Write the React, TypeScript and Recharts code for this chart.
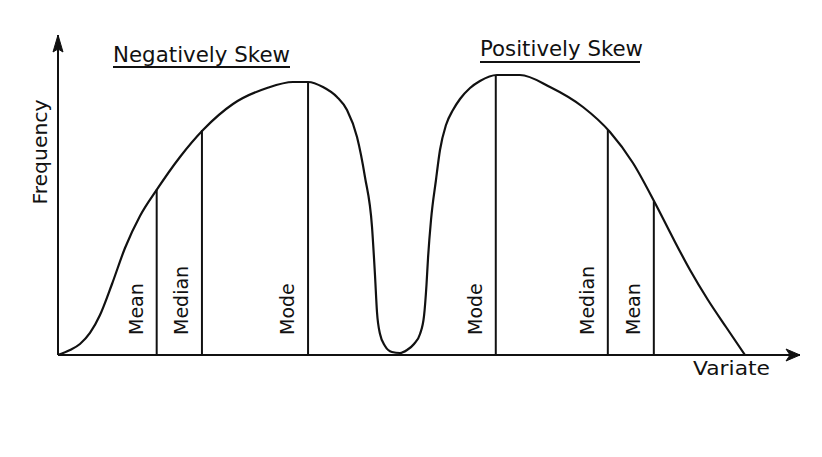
import React from 'react';
import { ComposedChart, Line, XAxis, YAxis, ReferenceLine, ReferenceDot } from 'recharts';

// Frequency curve (two humps), in chart units
const curveX = [0, 1.62, 2.96, 4.31, 5.66, 7.28, 9.03, 11.05, 13.34, 16.44, 19.54, 23.58, 28.17, 31.67, 33.69, 35.71, 37.60, 38.95, 40.30, 41.37, 42.32, 42.72, 42.99, 43.40, 44.07, 45.01, 46.09, 47.04, 47.98, 48.79, 49.33, 49.66, 49.87, 50.27, 50.94, 51.48, 52.29, 53.23, 54.18, 55.53, 56.87, 59.16, 62.26, 66.31, 70.75, 74.39, 77.49, 80.46, 82.88, 85.18, 87.60, 90.03, 92.59];
const curveY = [0, 1.56, 3.44, 6.88, 12.5, 22.19, 33.44, 43.44, 51.75, 61.88, 70.31, 78.44, 83.44, 85.31, 85.31, 83.75, 80.63, 76.56, 68.13, 55.63, 40.0, 25.0, 13.44, 6.56, 2.81, 0.94, 0.63, 1.56, 3.44, 6.56, 12.19, 21.88, 30.31, 42.19, 54.69, 64.06, 71.88, 76.56, 80.0, 83.44, 85.63, 87.5, 87.5, 83.75, 77.5, 69.69, 60.0, 47.5, 36.56, 26.56, 17.19, 8.75, 0];

// Vertical marker lines
const markerNames = ['Mean', 'Median', 'Mode', 'Mode', 'Median', 'Mean'];
const markerX = [13.3, 19.4, 33.7, 59.0, 74.1, 80.3];
const markerTop = [51.7, 70.3, 85.3, 87.5, 70.3, 48.0];

const titles = ['Negatively Skew', 'Positively Skew'];
const yLabel = 'Frequency';
const xLabel = 'Variate';
const xDomain = [0, 100];
const yDomain = [0, 100];

const data = curveX.map((x, i) => ({ x, y: curveY[i] }));

const FONT = '"DejaVu Sans", Verdana, sans-serif';
const INK = '#111';

export default function App() {
  return (
    <div style={{ position: 'absolute', left: 0, top: 0, width: 822, height: 457, background: '#fff' }}>
      <ComposedChart
        width={822}
        height={457}
        data={data}
        margin={{ top: 35, right: 22, bottom: 102, left: 58 }}
      >
        <XAxis type="number" dataKey="x" domain={xDomain} hide allowDataOverflow />
        <YAxis type="number" domain={yDomain} hide allowDataOverflow />

        {/* axes */}
        <ReferenceLine
          segment={[{ x: xDomain[0], y: yDomain[0] }, { x: xDomain[1], y: yDomain[0] }]}
          stroke={INK}
          strokeWidth={2}
          ifOverflow="visible"
        />
        <ReferenceLine
          segment={[{ x: xDomain[0], y: yDomain[0] }, { x: xDomain[0], y: yDomain[1] }]}
          stroke={INK}
          strokeWidth={2}
          ifOverflow="visible"
        />
        <ReferenceDot
          x={xDomain[1]}
          y={yDomain[0]}
          ifOverflow="visible"
          shape={(p: any) => (
            <path
              d={`M${p.cx},${p.cy} L${p.cx - 14},${p.cy - 6} L${p.cx - 10},${p.cy} L${p.cx - 14},${p.cy + 6} Z`}
              fill={INK}
              stroke={INK}
              strokeWidth={1}
            />
          )}
        />
        <ReferenceDot
          x={xDomain[0]}
          y={yDomain[1]}
          ifOverflow="visible"
          shape={(p: any) => (
            <path
              d={`M${p.cx},${p.cy} L${p.cx - 5},${p.cy + 17} L${p.cx},${p.cy + 14} L${p.cx + 5},${p.cy + 17} Z`}
              fill={INK}
              stroke={INK}
              strokeWidth={1}
            />
          )}
        />

        {/* marker lines */}
        {markerX.map((mx, i) => (
          <ReferenceLine
            key={'m' + i}
            segment={[{ x: mx, y: 0 }, { x: mx, y: markerTop[i] }]}
            stroke={INK}
            strokeWidth={2}
            ifOverflow="visible"
          />
        ))}
        {markerX.map((mx, i) => (
          <ReferenceDot
            key={'l' + i}
            x={mx}
            y={0}
            ifOverflow="visible"
            shape={(p: any) => (
              <text
                transform={`translate(${p.cx - 14},${p.cy - 20}) rotate(-90)`}
                textAnchor="start"
                fontFamily={FONT}
                fontSize={19}
                fill={INK}
              >
                {markerNames[i]}
              </text>
            )}
          />
        ))}

        <Line
          type="monotone"
          dataKey="y"
          stroke={INK}
          strokeWidth={2.2}
          dot={false}
          activeDot={false}
          isAnimationActive={false}
        />
      </ComposedChart>

      {/* text annotations */}
      <svg width={822} height={457} style={{ position: 'absolute', left: 0, top: 0, pointerEvents: 'none' }}>
        <text x={113} y={62} fontFamily={FONT} fontSize={22} fill={INK} textLength={177} lengthAdjust="spacingAndGlyphs">
          {titles[0]}
        </text>
        <line x1={113} y1={67} x2={290} y2={67} stroke={INK} strokeWidth={2} />
        <text x={480} y={56} fontFamily={FONT} fontSize={22} fill={INK} textLength={163} lengthAdjust="spacingAndGlyphs">
          {titles[1]}
        </text>
        <line x1={480} y1={62} x2={640} y2={62} stroke={INK} strokeWidth={2} />
        <text
          transform="translate(47,152) rotate(-90)"
          textAnchor="middle"
          fontFamily={FONT}
          fontSize={20}
          fill={INK}
          textLength={105}
          lengthAdjust="spacingAndGlyphs"
        >
          {yLabel}
        </text>
        <text x={693} y={375} fontFamily={FONT} fontSize={20} fill={INK} textLength={77} lengthAdjust="spacingAndGlyphs">
          {xLabel}
        </text>
      </svg>
    </div>
  );
}
